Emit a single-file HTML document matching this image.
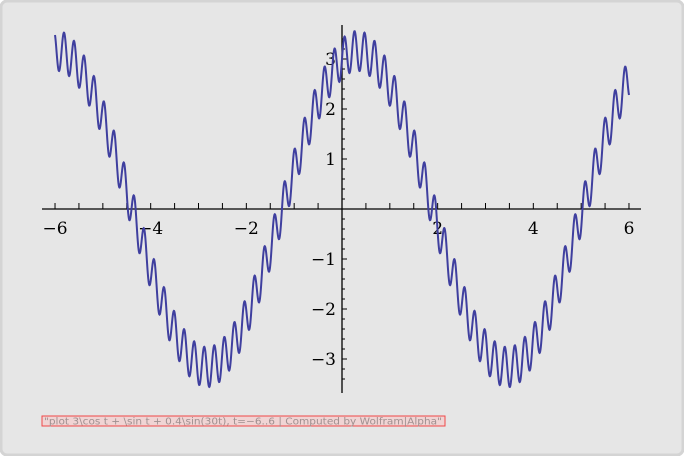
<!DOCTYPE html>
<html><head><meta charset="utf-8"><style>
body{margin:0;background:#fff;}
#wrap{position:relative;width:684px;height:456px;}
svg{position:absolute;left:0;top:0;}
</style></head><body>
<div id="wrap">
<svg id="chart" width="684" height="456">
<rect x="1" y="1" width="682" height="454" rx="6" fill="#e6e6e6" stroke="#d4d4d4" stroke-width="3"/>
<g id="axes"></g>
<path id="curve" fill="none" stroke="#3f3f9f" stroke-width="2"/>
<rect x="42" y="416" width="403" height="10" fill="#f0d4d4" stroke="#f04848" stroke-width="1"/>
<text x="44" y="424.5" textLength="398" lengthAdjust="spacingAndGlyphs" font-family="DejaVu Sans, Liberation Sans, sans-serif" font-size="10" fill="#a09090">"plot 3\cos t + \sin t + 0.4\sin(30t), t=−6..6 | Computed by Wolfram|Alpha"</text>
</svg>
</div>
<script>
// Function terms: f(t) = sum amp * trig(freq * t)
const termAmps = [3, 1, 0.4];
const termFreqs = [1, 1, 30];
const termKinds = ["cos", "sin", "sin"];
const tRange = [-6, 6];
const xTickLabels = [-6, -4, -2, 2, 4, 6];
const yTickLabels = [-3, -2, -1, 1, 2, 3];

const sx = t => 342 + (t) * 47.83;
const sy = v => 209 - v * 50;
const NS = "http://www.w3.org/2000/svg";
const axes = document.getElementById('axes');
function mk(tag, attrs){const e=document.createElementNS(NS,tag);for(const k in attrs)e.setAttribute(k,attrs[k]);return e;}

let l = mk('line',{x1:42,y1:209,x2:641,y2:209,stroke:'#000','stroke-width':1.3});


axes.appendChild(l);
l = mk('line',{x1:342,y1:25,x2:342,y2:393,stroke:'#000','stroke-width':1.3});


axes.appendChild(l);
for(let v=-6; v<=6.001; v+=0.5){
  if(Math.abs(v)<1e-9) continue;
  const t = mk('line',{x1:sx(v),y1:209,x2:sx(v),y2:203,stroke:'#000','stroke-width':1});
  
  
  axes.appendChild(t);
}
for(let v=-3.4; v<=3.6; v+=0.2){
  if(Math.abs(v)<1e-9) continue;
  const len = Math.abs(v-Math.round(v))<1e-6 ? 5 : 3;
  const t = mk('line',{x1:342,y1:sy(v),x2:342+len,y2:sy(v),stroke:'#000','stroke-width':1});
  
  
  axes.appendChild(t);
}
xTickLabels.forEach(v=>{
  const t = mk('text',{x:sx(v),y:234,'text-anchor':'middle','font-family':'DejaVu Serif, Liberation Serif, serif','font-size':17,fill:'#000'});
  t.textContent = v<0 ? '\u2212'+(-v) : String(v);
  
  
  axes.appendChild(t);
});
yTickLabels.forEach(v=>{
  const t = mk('text',{x:336,y:sy(v)+6,'text-anchor':'end','font-family':'DejaVu Serif, Liberation Serif, serif','font-size':17,fill:'#000'});
  t.textContent = v<0 ? '\u2212'+(-v) : String(v);
  
  
  axes.appendChild(t);
});
function f(t){let s=0;for(let i=0;i<termAmps.length;i++){s+=termAmps[i]*(termKinds[i]==='cos'?Math.cos(termFreqs[i]*t):Math.sin(termFreqs[i]*t));}return s;}
let d='';const N=2400;
for(let i=0;i<=N;i++){const t=tRange[0]+(tRange[1]-tRange[0])*i/N;d+=(i?'L':'M')+sx(t).toFixed(2)+','+sy(f(t)).toFixed(2);}
document.getElementById('curve').setAttribute('d',d);
</script>
</body></html>
